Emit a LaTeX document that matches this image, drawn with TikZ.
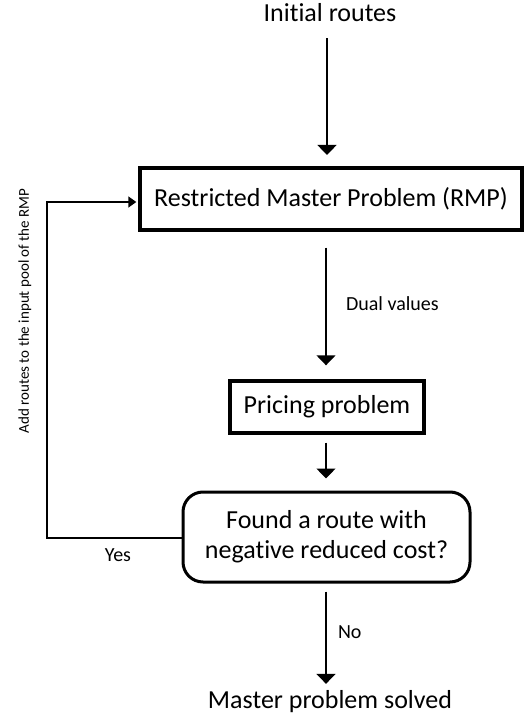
\documentclass[tikz,border=0pt]{standalone}
\usepackage{fontspec}
\setmainfont{Carlito}[Ligatures=NoCommon]
\usetikzlibrary{arrows.meta}

\begin{document}
\begin{tikzpicture}[x=1pt,y=-1pt,
        >={Triangle[length=10pt,width=19pt]},
        line width=1.4pt,
        box/.style={draw,line width=3.4pt,inner sep=0pt},
        txt/.style={font=\fontsize{26}{30}\selectfont},
        lbl/.style={font=\fontsize{20}{24}\selectfont}]
  \useasboundingbox (0,0) rectangle (525,722);
  \node[txt] (init) at (330,13) {Initial routes};
  \node[box,txt,minimum width=382pt,minimum height=62pt] (rmp) at (331,199) {Restricted Master Problem (RMP)};
  \node[box,txt,minimum width=194pt,minimum height=52pt] (price) at (327,407) {Pricing problem};
  \node[box,txt,line width=3pt,rounded corners=20pt,align=center,
        minimum width=287pt,minimum height=90pt] (found) at (326.5,537)
        {Found a route with\\negative reduced cost?};
  \node[txt] (solved) at (330,702) {Master problem solved};
  \coordinate (corner) at (47,538);

  \draw[->] (init.south -| 327,0) ++(0,12) -- (327,155);
  \draw[->,shorten <=16pt,shorten >=14pt] (rmp.south -| 326,0) -- (price.north -| 326,0);
  \node[lbl,anchor=west] (dual) at (342,304) {Dual values};
  \draw[->,shorten <=8pt,shorten >=12pt] (price.south -| 326,0) -- (found.north -| 326,0);
  \draw[->,shorten <=8pt,shorten >=3pt] (found.south -| 326,0) -- (solved.north -| 326,0);
  \node[lbl,anchor=west] (no) at (334,632) {No};
  \draw[->,>={Triangle[length=8pt,width=11pt]},shorten >=2pt]
        (found.west |- corner) -- (corner) |- (rmp.west |- 0,202);
  \node[lbl] (yes) at (118,555) {Yes};
  \node[font=\fontsize{15}{18}\selectfont,rotate=90] (addroutes) at (25,311) {Add routes to the input pool of the RMP};
\end{tikzpicture}
\end{document}
